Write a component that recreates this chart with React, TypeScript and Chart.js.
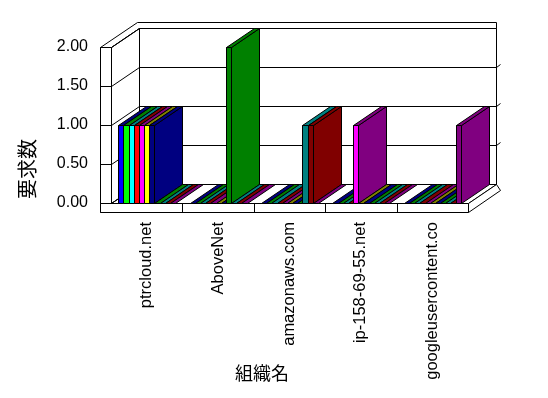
import React, { useEffect, useRef } from 'react';
import { Chart, registerables } from 'chart.js';

Chart.register(...registerables);

// ---- data ----
const categories = ['ptrcloud.net', 'AboveNet', 'amazonaws.com', 'ip-158-69-55.net', 'googleusercontent.co'];
const seriesNames = ['系列1', '系列2', '系列3', '系列4', '系列5', '系列6', '系列7', '系列8', '系列9', '系列10', '系列11'];
const s1 = [1, 0, 0, 0, 0];
const s2 = [1, 0, 0, 0, 0];
const s3 = [1, 0, 0, 0, 0];
const s4 = [1, 0, 0, 0, 0];
const s5 = [1, 0, 0, 1, 0];
const s6 = [1, 0, 0, 0, 0];
const s7 = [1, 0, 0, 0, 0];
const s8 = [0, 2, 0, 0, 0];
const s9 = [0, 0, 1, 0, 0];
const s10 = [0, 0, 1, 0, 0];
const s11 = [0, 0, 0, 0, 1];
const seriesValues = [s1, s2, s3, s4, s5, s6, s7, s8, s9, s10, s11];
const yTickValues = [0, 0.5, 1, 1.5, 2];
const xTitle = '組織名';
const yTitle = '要求数';

// ---- styles ----
const frontColors = ['#0000FF', '#00FF00', '#00FFFF', '#FF0000', '#FF00FF', '#FFFF00', '#000080', '#008000', '#008080', '#800000', '#800080'];
const darkColors = ['#000080', '#008000', '#008080', '#800000', '#800080', '#808000', '#000080', '#008000', '#008080', '#800000', '#800080'];
const DX = 28;
const DY = 19;
const FONT = '"Liberation Sans", "Noto Sans CJK JP", sans-serif';

function poly(ctx: CanvasRenderingContext2D, pts: number[][], fill: string | null) {
  ctx.beginPath();
  pts.forEach((p, i) => {
    const x = Math.round(p[0]) + 0.5;
    const y = Math.round(p[1]) + 0.5;
    if (i === 0) ctx.moveTo(x, y); else ctx.lineTo(x, y);
  });
  ctx.closePath();
  if (fill) { ctx.fillStyle = fill; ctx.fill(); }
  ctx.stroke();
}

function line(ctx: CanvasRenderingContext2D, x0: number, y0: number, x1: number, y1: number) {
  ctx.beginPath();
  ctx.moveTo(Math.round(x0) + 0.5, Math.round(y0) + 0.5);
  ctx.lineTo(Math.round(x1) + 0.5, Math.round(y1) + 0.5);
  ctx.stroke();
}

const plot3d = {
  id: 'plot3d',
  beforeDatasetsDraw(chart: any) {
    const ctx: CanvasRenderingContext2D = chart.ctx;
    const { left: L, right: R, top: T, bottom: B } = chart.chartArea;
    const ys = chart.scales.y;
    const xs = chart.scales.x;
    ctx.save();
    ctx.lineWidth = 1;
    ctx.strokeStyle = '#000';

    // top strip of the frame
    poly(ctx, [[L - 11, T], [L, T], [L + DX, T - DY], [R + DX, T - DY], [R + DX, T - DY - 6], [L - 11 + 37, T - DY - 6]], '#fff');
    // back wall
    poly(ctx, [[L + DX, T - DY], [R + DX, T - DY], [R + DX, B - DY], [L + DX, B - DY]], '#fff');
    // left wall
    poly(ctx, [[L, T], [L + DX, T - DY], [L + DX, B - DY], [L, B]], '#fff');
    // floor
    poly(ctx, [[L, B], [R, B], [R + DX, B - DY], [L + DX, B - DY]], '#fff');
    // floor right face
    poly(ctx, [[R, B], [R + DX, B - DY], [R + DX + 4, B - DY + 6], [R, B + 9]], '#fff');
    // left slab front
    poly(ctx, [[L - 11, T], [L, T], [L, B + 9], [L - 11, B + 9]], '#fff');
    // floor slab front
    poly(ctx, [[L - 11, B], [R, B], [R, B + 9], [L - 11, B + 9]], '#fff');

    yTickValues.forEach((v) => {
      const y = ys.getPixelForValue(v);
      line(ctx, L + DX, y - DY, R + DX, y - DY);
      line(ctx, L, y, L + DX, y - DY);
      line(ctx, L - 11, y, L, y);
      if (v > 0 && v < 2) line(ctx, R + DX, y - DY, R + DX + 4, y - DY - 3);
    });
    for (let i = 0; i < categories.length - 1; i++) {
      const x = (xs.getPixelForValue(i) + xs.getPixelForValue(i + 1)) / 2;
      line(ctx, x, B, x, B + 9);
    }

    // bars
    const items: any[] = [];
    chart.data.datasets.forEach((ds: any, i: number) => {
      const meta = chart.getDatasetMeta(i);
      meta.data.forEach((el: any) => {
        const p = el.getProps(['x', 'y', 'base', 'width'], true);
        items.push({
          x0: Math.round(p.x - p.width / 2),
          x1: Math.round(p.x + p.width / 2),
          top: Math.round(Math.min(p.y, p.base)),
          bot: Math.round(Math.max(p.y, p.base)),
          front: frontColors[i],
          dark: darkColors[i],
        });
      });
    });
    items.sort((a, b) => a.x0 - b.x0);
    items.forEach((it) => {
      const { x0, x1, top, bot } = it;
      if (bot > top) {
        poly(ctx, [[x0, top], [x1, top], [x1, bot], [x0, bot]], it.front);
        poly(ctx, [[x1, top], [x1 + DX, top - DY], [x1 + DX, bot - DY], [x1, bot]], it.dark);
      }
      poly(ctx, [[x0, top], [x1, top], [x1 + DX, top - DY], [x0 + DX, top - DY]], it.dark);
    });
    ctx.restore();
    return false;
  },
  afterDraw(chart: any) {
    const ctx: CanvasRenderingContext2D = chart.ctx;
    ctx.save();
    ctx.fillStyle = '#000';
    ctx.textAlign = 'center';
    ctx.textBaseline = 'middle';
    ctx.font = `18px ${FONT}`;
    ctx.fillText(xTitle, 262, 375);
    ctx.translate(29, 169);
    ctx.rotate(-Math.PI / 2);
    ctx.font = `20px ${FONT}`;
    ctx.fillText(yTitle, 0, 0);
    ctx.restore();
  },
};

export default function App() {
  const ref = useRef<HTMLCanvasElement>(null);
  useEffect(() => {
    if (!ref.current) return;
    const chart = new Chart(ref.current, {
      type: 'bar',
      data: {
        labels: categories,
        datasets: seriesValues.map((vals, i) => ({
          label: seriesNames[i],
          data: vals,
          backgroundColor: frontColors[i],
          borderWidth: 0,
          categoryPercentage: 0.8,
          barPercentage: 1.0,
        })),
      },
      options: {
        responsive: false,
        animation: false,
        layout: { padding: { left: 0, right: 80, top: 47, bottom: 0 } },
        plugins: { legend: { display: false }, tooltip: { enabled: false } },
        scales: {
          x: {
            grid: { display: false, drawTicks: false },
            border: { display: false },
            ticks: {
              autoSkip: false,
              maxRotation: 90,
              minRotation: 90,
              padding: 19,
              color: '#000',
              font: { family: FONT, size: 16.5 },
            },
            afterFit: (s: any) => { s.height = 195; },
          },
          y: {
            min: 0,
            max: 2,
            grid: { display: false, drawTicks: false },
            border: { display: false },
            ticks: {
              stepSize: 0.5,
              padding: 23,
              color: '#000',
              font: { family: FONT, size: 16 },
              callback: (v: any) => Number(v).toFixed(2),
            },
            afterFit: (s: any) => { s.width = 111; },
          },
        },
      },
      plugins: [plot3d],
    });
    return () => chart.destroy();
  }, []);
  return (
    <div style={{ position: 'fixed', left: 0, top: 0, width: 548, height: 398, background: '#fff' }}>
      <canvas ref={ref} width={548} height={398} />
    </div>
  );
}
